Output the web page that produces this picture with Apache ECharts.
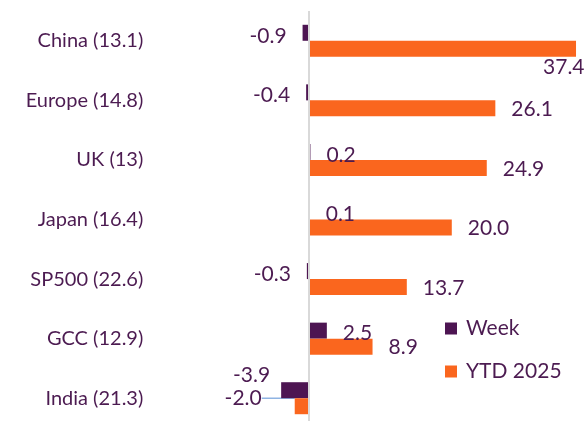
<!DOCTYPE html>
<html><head><meta charset="utf-8">
<script src="https://cdn.jsdelivr.net/npm/echarts@6/dist/echarts.min.js"></script>
<style>html,body{margin:0;padding:0;background:#fff;overflow:hidden}#c{width:588px;height:428px}</style>
</head><body><div id="c"></div>
<script>
const categories = ['China (13.1)', 'Europe (14.8)', 'UK (13)', 'Japan (16.4)', 'SP500 (22.6)', 'GCC (12.9)', 'India (21.3)'];
const weekValues = [-0.9, -0.4, 0.2, 0.1, -0.3, 2.5, -3.9];
const ytdValues = [37.4, 26.1, 24.9, 20.0, 13.7, 8.9, -2.0];
const seriesNames = ['Week', 'YTD 2025'];

const TXT = '#4c1b51';
const FONT = 'Lato';
const VFS = 21;
function mk(vals, special) {
  return vals.map((v, i) => {
    const item = { value: v, label: { position: v < 0 ? 'left' : 'right' } };
    if (special[i]) Object.assign(item, special[i]);
    return item;
  });
}
const weekData = mk(weekValues, {});
const ytdData = mk(ytdValues, {
  6: { labelLine: { show: true, lineStyle: { color: '#8fb4e3', width: 1.5 } } }
});

const chart = echarts.init(document.getElementById('c'));
chart.setOption({
  animation: false,
  grid: { left: 273.3, right: 7.7, top: 11, bottom: 0, containLabel: false },
  xAxis: { type: 'value', min: -5, max: 38, show: false },
  yAxis: {
    type: 'category', data: categories, inverse: true,
    axisLine: { show: false }, axisTick: { show: false },
    axisLabel: { margin: 130, color: TXT, fontFamily: FONT, fontSize: 20 }
  },
  legend: {
    orient: 'vertical', left: 445, top: 318, padding: 0, itemWidth: 12, itemHeight: 12, itemGap: 22,
    icon: 'rect', data: seriesNames,
    textStyle: { color: TXT, fontFamily: FONT, fontSize: 21, padding: [0, 0, 0, 4] }
  },
  series: [
    {
      name: seriesNames[0], type: 'bar', data: weekData, barWidth: 16, barGap: '0%',
      itemStyle: { color: '#4d1552' },
      label: { show: true, distance: 16, color: TXT, fontFamily: FONT, fontSize: VFS, formatter: p => p.value.toFixed(1) },
      labelLayout: function (params) {
        if (params.dataIndex === 6) return { dx: 5, dy: -15 };
        return { dy: 3 };
      },
      markLine: {
        silent: true, symbol: 'none', label: { show: false },
        lineStyle: { color: '#d9d9d9', type: 'solid', width: 2 },
        data: [{ xAxis: 0 }]
      }
    },
    {
      name: seriesNames[1], type: 'bar', data: ytdData, barWidth: 16,
      itemStyle: { color: '#fa661e' },
      label: { show: true, distance: 16, color: TXT, fontFamily: FONT, fontSize: VFS, formatter: p => p.value.toFixed(1) },
      labelLine: { show: false },
      labelLayout: function (params) {
        if (params.dataIndex === 6) return { dx: -17, dy: -8 };
        if (params.dataIndex === 0) return { dx: -49, dy: 18 };
        return { dy: 1 };
      }
    }
  ]
});
</script></body></html>
